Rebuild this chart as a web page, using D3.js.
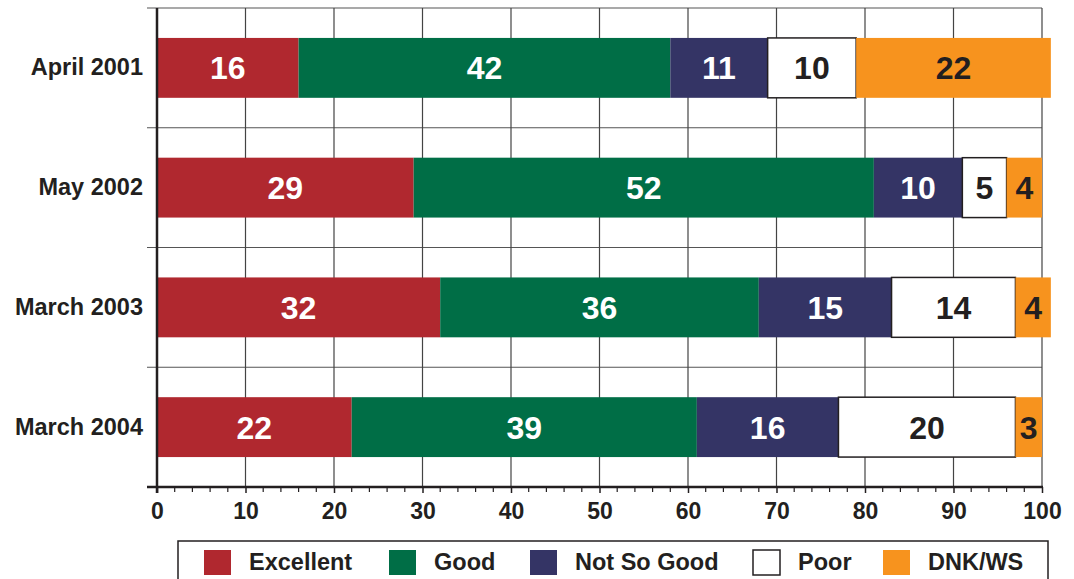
<!DOCTYPE html>
<html lang="en">
<head>
<meta charset="UTF-8">
<script src="https://d3js.org/d3.v7.min.js"></script>
<style>
    body { margin: 0; overflow: hidden; background: #fff; }
    text { font-family: "Liberation Sans", Arial, sans-serif; font-weight: bold; }
</style>
</head>
<body>
<script>
    const periods = ["April 2001", "May 2002", "March 2003", "March 2004"];
    const seriesNames = ["Excellent", "Good", "Not So Good", "Poor", "DNK/WS"];
    const excellent = [16, 29, 32, 22];
    const good = [42, 52, 36, 39];
    const notSoGood = [11, 10, 15, 16];
    const poor = [10, 5, 14, 20];
    const dnk = [22, 4, 4, 3];
    const xTicks = [0, 10, 20, 30, 40, 50, 60, 70, 80, 90, 100];

    const seriesValues = [excellent, good, notSoGood, poor, dnk];
    const fills = ["#b0282f", "#006e46", "#343465", "#ffffff", "#f7931e"];
    const labelColors = ["#fff", "#fff", "#fff", "#231f20", "#231f20"];
    const ink = "#231f20";

    const width = 1074, height = 579;
    const svg = d3.select("body").append("svg")
        .attr("width", width)
        .attr("height", height);

    const x = d3.scaleLinear().domain([0, 100]).range([157, 1042]);
    const y = d3.scaleBand().domain(periods).range([8, 487])
        .paddingInner(0.5).paddingOuter(0.25);

    // horizontal separators between rows
    const seps = d3.range(periods.length).map(i => 8 + i * y.step());
    svg.selectAll("line.sep")
        .data(seps)
        .enter().append("line")
        .attr("x1", 147).attr("x2", x(100))
        .attr("y1", d => d).attr("y2", d => d)
        .attr("stroke", "#555").attr("stroke-width", 1.2);

    // vertical grid
    svg.selectAll("line.grid")
        .data(xTicks.slice(1))
        .enter().append("line")
        .attr("x1", d => x(d)).attr("x2", d => x(d))
        .attr("y1", 8).attr("y2", 487)
        .attr("stroke", "#444").attr("stroke-width", 1.2);

    // stacked bars
    periods.forEach((p, i) => {
        let acc = 0;
        seriesValues.forEach((vals, s) => {
            const v = vals[i];
            const x0 = x(acc), x1 = x(acc + v);
            svg.append("rect")
                .attr("x", x0).attr("y", y(p))
                .attr("width", x1 - x0).attr("height", y.bandwidth())
                .attr("fill", fills[s])
                .attr("stroke", s === 3 ? ink : "none")
                .attr("stroke-width", 1.5);
            svg.append("text")
                .attr("x", (x0 + x1) / 2)
                .attr("y", y(p) + y.bandwidth() / 2)
                .attr("dy", "0.36em")
                .attr("text-anchor", "middle")
                .attr("fill", labelColors[s])
                .style("font-size", "32px")
                .text(v);
            acc += v;
        });
    });

    // row labels
    svg.selectAll("text.row")
        .data(periods)
        .enter().append("text")
        .attr("x", 143)
        .attr("y", d => y(d) + y.bandwidth() / 2 - 1)
        .attr("dy", "0.36em")
        .attr("text-anchor", "end")
        .attr("fill", ink)
        .style("font-size", "23.5px")
        .text(d => d);

    // axes lines
    svg.append("line")
        .attr("x1", x(0)).attr("x2", x(0)).attr("y1", 8).attr("y2", 493)
        .attr("stroke", ink).attr("stroke-width", 2.5);
    svg.append("line")
        .attr("x1", 147).attr("x2", x(100) + 1).attr("y1", 487).attr("y2", 487)
        .attr("stroke", ink).attr("stroke-width", 2.5);

    const xAxis = d3.axisBottom(x)
        .tickValues(xTicks)
        .tickSize(6)
        .tickPadding(10)
        .tickFormat(d3.format("d"));
    const gx = svg.append("g")
        .attr("transform", "translate(0,487)")
        .call(xAxis);
    gx.select(".domain").remove();
    gx.selectAll(".tick line").attr("stroke", ink).attr("stroke-width", 1.5);
    gx.selectAll(".tick text")
        .attr("fill", ink)
        .style("font-size", "23px")
        .style("font-family", "'Liberation Sans', Arial, sans-serif")
        .style("font-weight", "bold");

    // minor ticks
    svg.selectAll("line.minor")
        .data(d3.range(2, 100, 2).filter(d => d % 10 !== 0))
        .enter().append("line")
        .attr("x1", d => x(d)).attr("x2", d => x(d))
        .attr("y1", 487).attr("y2", 492)
        .attr("stroke", ink).attr("stroke-width", 1.2);

    // legend
    const legend = svg.append("g");
    legend.append("rect")
        .attr("x", 178).attr("y", 541)
        .attr("width", 870).attr("height", 60)
        .attr("fill", "#fff").attr("stroke", ink).attr("stroke-width", 1.5);
    const legendX = [204, 389, 530, 753, 883];
    seriesNames.forEach((name, s) => {
        legend.append("rect")
            .attr("x", legendX[s]).attr("y", 550)
            .attr("width", 27).attr("height", 25)
            .attr("fill", fills[s])
            .attr("stroke", s === 3 ? ink : "none")
            .attr("stroke-width", 1.5);
        legend.append("text")
            .attr("x", legendX[s] + 45).attr("y", 570)
            .attr("fill", ink)
            .style("font-size", "23.5px")
            .text(name);
    });
</script>
</body>
</html>
